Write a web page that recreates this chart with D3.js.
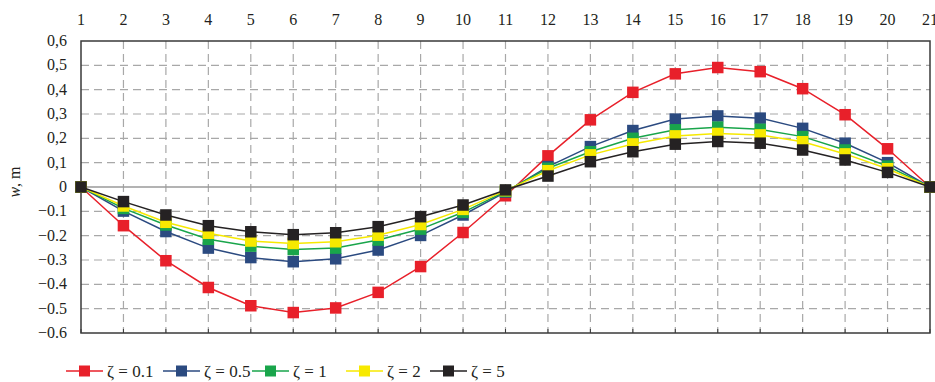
<!DOCTYPE html>
<meta charset="utf-8">
<title>w deflection</title>
<script src="https://d3js.org/d3.v7.min.js"></script>
<style>
  body { margin: 0; background: #fff; }
  text { font-family: "Liberation Serif", "DejaVu Serif", serif; fill: #231f20; }
</style>
<body>
</body>
<script>
  const width = 935, height = 382;

  const nodes = d3.range(1, 22);
  const yTicks = [0.6, 0.5, 0.4, 0.3, 0.2, 0.1, 0, -0.1, -0.2, -0.3, -0.4, -0.5, -0.6];
  const yTickLabels = ["0,6", "0,5", "0,4", "0,3", "0,2", "0,1", "0", "\u22120.1", "\u22120.2", "\u22120.3", "\u22120.4", "\u22120.5", "\u22120.6"];

  const names = ["\u03B6 = 0.1", "\u03B6 = 0.5", "\u03B6 = 1", "\u03B6 = 2", "\u03B6 = 5"];
  const colors = ["#e8202a", "#2b4a80", "#19a54b", "#f7e900", "#252223"];

  const z01 = [0, -0.159, -0.303, -0.413, -0.488, -0.516, -0.497, -0.433, -0.327, -0.187, -0.036, 0.128, 0.276, 0.389, 0.465, 0.491, 0.474, 0.404, 0.297, 0.157, 0];
  const z05 = [0, -0.099, -0.183, -0.251, -0.290, -0.307, -0.295, -0.259, -0.199, -0.115, -0.021, 0.084, 0.166, 0.232, 0.279, 0.292, 0.283, 0.241, 0.180, 0.100, 0];
  const z1  = [0, -0.088, -0.156, -0.215, -0.243, -0.257, -0.251, -0.218, -0.173, -0.104, -0.018, 0.077, 0.145, 0.200, 0.235, 0.246, 0.237, 0.207, 0.152, 0.086, 0];
  const z2  = [0, -0.078, -0.145, -0.190, -0.222, -0.232, -0.225, -0.198, -0.154, -0.092, -0.015, 0.067, 0.132, 0.177, 0.210, 0.220, 0.214, 0.186, 0.136, 0.075, 0];
  const z5  = [0, -0.060, -0.115, -0.159, -0.184, -0.196, -0.188, -0.163, -0.122, -0.074, -0.012, 0.045, 0.104, 0.145, 0.176, 0.187, 0.180, 0.152, 0.111, 0.060, 0];
  const series = [z01, z05, z1, z2, z5];

  const svg = d3.select("body").append("svg").attr("width", width).attr("height", height);

  const x = d3.scaleLinear().domain([1, 21]).range([81, 930]);
  const y = d3.scaleLinear().domain([-0.6, 0.6]).range([333, 41]);

  //////////////////////// grid ////////////////////////
  const grid = svg.append("g");
  grid.selectAll(".vg")
      .data(nodes.slice(1, -1))
      .join("line")
      .attr("x1", d => x(d)).attr("x2", d => x(d))
      .attr("y1", y(0.6)).attr("y2", y(-0.6))
      .attr("stroke", "#a8a8a8").attr("stroke-width", 1.2)
      .attr("stroke-dasharray", "8,5");
  grid.selectAll(".hg")
      .data(yTicks.filter(d => d !== 0 && Math.abs(d) < 0.6))
      .join("line")
      .attr("x1", x(1)).attr("x2", x(21))
      .attr("y1", d => y(d)).attr("y2", d => y(d))
      .attr("stroke", "#a8a8a8").attr("stroke-width", 1.2)
      .attr("stroke-dasharray", "8,5");
  grid.append("line")
      .attr("x1", x(1)).attr("x2", x(21))
      .attr("y1", y(0)).attr("y2", y(0))
      .attr("stroke", "#9a9a9a").attr("stroke-width", 1.3);

  // frame
  svg.append("rect")
      .attr("x", x(1)).attr("y", y(0.6))
      .attr("width", x(21) - x(1)).attr("height", y(-0.6) - y(0.6))
      .attr("fill", "none").attr("stroke", "#3a3a3a").attr("stroke-width", 1.5);

  // small ticks on bottom edge
  svg.append("g").selectAll("line")
      .data(nodes)
      .join("line")
      .attr("x1", d => x(d)).attr("x2", d => x(d))
      .attr("y1", y(-0.6)).attr("y2", y(-0.6) - 4)
      .attr("stroke", "#3a3a3a").attr("stroke-width", 1);

  //////////////////////// axes labels ////////////////////////
  svg.append("g").selectAll("text")
      .data(nodes)
      .join("text")
      .attr("x", d => x(d)).attr("y", 25)
      .attr("text-anchor", "middle")
      .style("font-size", "16px")
      .text(d => d);

  svg.append("g").selectAll("text")
      .data(yTicks)
      .join("text")
      .attr("x", 67).attr("y", d => y(d) + 5)
      .attr("text-anchor", "end")
      .style("font-size", "16px")
      .text((d, i) => yTickLabels[i]);

  const ylab = svg.append("text")
      .attr("transform", "translate(20,182) rotate(-90)")
      .attr("text-anchor", "middle")
      .style("font-size", "16px");
  ylab.append("tspan").style("font-style", "italic").text("w");
  ylab.append("tspan").text(", m");

  //////////////////////// series ////////////////////////
  const line = d3.line().x((d, i) => x(nodes[i])).y(d => y(d));

  series.forEach((s, k) => {
    const g = svg.append("g");
    g.append("path")
        .attr("d", line(s))
        .attr("fill", "none")
        .attr("stroke", colors[k])
        .attr("stroke-width", 1.5);
    g.selectAll("rect")
        .data(s)
        .join("rect")
        .attr("x", (d, i) => x(nodes[i]) - 5.75)
        .attr("y", d => y(d) - 5.75)
        .attr("width", 11.5).attr("height", 11.5)
        .attr("fill", colors[k]);
  });

  //////////////////////// legend ////////////////////////
  const legendX = [66, 163, 252, 346, 430];
  const leg = svg.append("g");
  names.forEach((n, k) => {
    const lx = legendX[k];
    leg.append("line")
        .attr("x1", lx).attr("x2", lx + 37)
        .attr("y1", 371).attr("y2", 371)
        .attr("stroke", colors[k]).attr("stroke-width", 1.5);
    leg.append("rect")
        .attr("x", lx + 18.5 - 5.5).attr("y", 371 - 5.5)
        .attr("width", 11).attr("height", 11)
        .attr("fill", colors[k]);
    leg.append("text")
        .attr("x", lx + 41).attr("y", 377)
        .style("font-size", "17px")
        .text(n);
  });
</script>
